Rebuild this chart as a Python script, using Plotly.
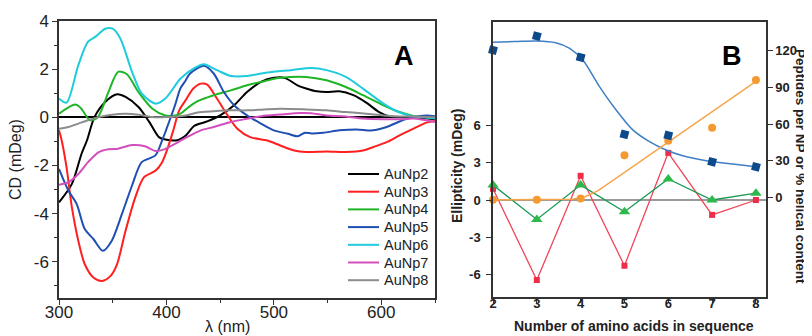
import plotly.graph_objects as go

# Browser page has an 8px body margin; the figure is sized so that it fills the 812x336 window.
OFF = 8
W, H = 812 - OFF, 336 - OFF

# ---------------- Panel A data (CD spectra) ----------------
wl_np2 = [300, 312, 321, 326, 333, 343, 354, 362, 374, 384, 393, 399, 410, 418, 426, 438, 450, 463, 475, 488, 500, 510, 522, 530, 540, 549, 561, 574, 586, 598, 607, 620, 635, 650]
cd_np2 = [-3.53, -2.76, -1.51, -0.96, 0.01, 0.64, 0.96, 0.85, 0.43, -0.19, -0.82, -0.92, -0.95, -0.75, -0.35, -0.17, 0.08, 0.5, 1.05, 1.47, 1.64, 1.64, 1.33, 1.2, 1.08, 1.05, 1.08, 0.92, 0.61, 0.22, 0.05, 0.0, -0.02, -0.08]

wl_np3 = [300, 302.5, 307, 312, 318, 324, 332, 340, 348, 354, 362, 371, 379, 390, 396, 401, 406, 412, 418, 425, 432, 438, 447, 457, 466, 478, 494, 506, 519, 530, 549, 567, 583, 592, 605, 617, 630, 642, 650]
cd_np3 = [-0.54, -0.96, -2.07, -3.74, -5.13, -6.1, -6.65, -6.79, -6.58, -6.1, -4.7, -3.32, -2.49, -2.21, -1.86, -1.3, -0.6, 0.3, 0.72, 1.2, 1.4, 1.36, 0.78, 0.08, -0.47, -0.82, -0.96, -1.17, -1.38, -1.44, -1.42, -1.44, -1.38, -1.24, -1.03, -0.75, -0.47, -0.22, -0.15]

wl_np4 = [300, 315, 320, 329, 336, 346, 355, 363, 374, 387, 399, 408, 413, 420, 429, 444, 460, 475, 491, 506, 530, 549, 567, 583, 602, 617, 630, 650]
cd_np4 = [0.15, 0.53, 0.4, -0.12, 0.0, 1.05, 1.89, 1.8, 1.05, 0.36, 0.08, 0.08, 0.15, 0.4, 0.67, 0.92, 1.12, 1.33, 1.5, 1.64, 1.68, 1.54, 1.26, 0.92, 0.5, 0.22, 0.06, 0.0]

wl_np5 = [300, 308.7, 316.5, 324, 332, 340.8, 349, 358.6, 368, 377, 389.7, 396, 399, 408, 413, 418, 422, 435, 444, 453.5, 463, 475, 488, 500, 513, 522, 529, 535, 546, 561, 577, 592, 605, 617, 630, 642, 650]
cd_np5 = [-2.14, -3.04, -3.6, -4.64, -5.05, -5.54, -5.13, -4.01, -2.83, -1.86, -1.58, -0.96, -0.61, 0.5, 1.2, 1.54, 1.82, 2.14, 1.82, 1.05, 0.5, 0.08, -0.26, -0.54, -0.68, -0.78, -0.64, -0.67, -0.64, -0.54, -0.5, -0.54, -0.4, -0.17, 0.01, 0.08, 0.05]

wl_np6 = [300, 307, 318, 327, 334, 343, 350, 357, 368, 377, 390, 399, 413, 425.5, 435, 447, 460, 475, 494, 516, 535, 549, 567, 583, 602, 617, 630, 650]
cd_np6 = [0.78, 0.61, 2.17, 3.14, 3.35, 3.68, 3.68, 3.28, 1.89, 0.99, 0.57, 0.78, 1.6, 2.03, 2.2, 1.96, 1.72, 1.72, 1.86, 1.96, 2.05, 1.96, 1.68, 1.19, 0.57, 0.2, 0.04, -0.05]

wl_np7 = [300, 309, 318, 327, 337, 346, 355, 368, 380, 390, 398, 408, 418, 432, 444, 460, 475, 488, 506, 525, 535, 549, 567, 583, 602, 617, 630, 650]
cd_np7 = [-2.8, -2.69, -2.35, -1.86, -1.44, -1.32, -1.3, -1.15, -1.2, -1.4, -1.33, -1.1, -0.85, -0.54, -0.4, -0.19, -0.06, 0.05, 0.12, 0.18, 0.17, 0.08, 0.04, -0.05, -0.08, -0.08, -0.05, -0.19]

wl_np8 = [300, 309, 318, 327, 337, 349, 362, 374, 387, 399, 418, 429, 444, 460, 475, 491, 506, 530, 549, 567, 586, 602, 617, 630, 650]
cd_np8 = [-0.47, -0.4, -0.26, -0.12, 0.01, 0.11, 0.15, 0.11, 0.01, 0.01, 0.08, 0.2, 0.25, 0.29, 0.29, 0.33, 0.36, 0.33, 0.29, 0.22, 0.15, 0.08, 0.04, 0.04, 0.0]

spectra = [
    ("AuNp2", wl_np2, cd_np2, "#000000"),
    ("AuNp3", wl_np3, cd_np3, "#ff1f1f"),
    ("AuNp4", wl_np4, cd_np4, "#1fb526"),
    ("AuNp5", wl_np5, cd_np5, "#1f4fb0"),
    ("AuNp6", wl_np6, cd_np6, "#1fcbdc"),
    ("AuNp7", wl_np7, cd_np7, "#d24fbd"),
    ("AuNp8", wl_np8, cd_np8, "#8c8c8c"),
]

# ---------------- Panel B data ----------------
n_amino = [2, 3, 4, 5, 6, 7, 8]
ellip_red = [0.9, -6.45, 1.95, -5.3, 3.8, -1.2, 0.0]
ellip_green = [1.2, -1.57, 1.2, -0.95, 1.7, 0.0, 0.55]
peptides_per_np = [120.5, 132, 114.5, 51.5, 50.7, 29, 25]
helical_pct = [-2, -2, -1, 34.4, 46.4, 57, 96]

fit_pep_x = [2.0, 2.5, 3.0, 3.43, 3.75, 4.05, 4.43, 4.81, 5.19, 5.57, 5.95, 6.33, 6.87, 7.47, 8.0]
fit_pep_y = [127, 127.5, 128, 126.6, 122, 112.4, 90.6, 71.5, 55.2, 45.6, 38.8, 34.1, 30, 27.3, 25]
fit_hel_x = [2, 3, 3.8, 4.1, 4.4, 8]
fit_hel_y = [-2, -2, -1.5, 0.5, 5.5, 95]

FONT = "Liberation Sans, Arial, sans-serif"

fig = go.Figure()

for name, x, y, c in spectra:
    fig.add_trace(go.Scatter(x=x, y=y, mode="lines", name=name, showlegend=False,
                             line=dict(color=c, width=2, shape="spline", smoothing=0.8),
                             xaxis="x", yaxis="y"))

# Panel B traces
fig.add_trace(go.Scatter(x=fit_pep_x, y=fit_pep_y, mode="lines", showlegend=False,
                         line=dict(color="#3f7fc4", width=1.5, shape="spline", smoothing=0.8),
                         xaxis="x2", yaxis="y3", cliponaxis=False))
fig.add_trace(go.Scatter(x=fit_hel_x, y=fit_hel_y, mode="lines", showlegend=False,
                         line=dict(color="#f7a54a", width=1.5),
                         xaxis="x2", yaxis="y3", cliponaxis=False))
fig.add_trace(go.Scatter(x=n_amino, y=ellip_red, mode="lines+markers", showlegend=False,
                         line=dict(color="#f0455a", width=1.3),
                         marker=dict(symbol="square", size=6, color="#ee2d4a"),
                         xaxis="x2", yaxis="y2", cliponaxis=False))
fig.add_trace(go.Scatter(x=n_amino, y=ellip_green, mode="lines+markers", showlegend=False,
                         line=dict(color="#1a9a55", width=1.3),
                         marker=dict(symbol="triangle-up", size=10, color="#2cb84a"),
                         xaxis="x2", yaxis="y2", cliponaxis=False))
fig.add_trace(go.Scatter(x=n_amino, y=helical_pct, mode="markers", showlegend=False,
                         marker=dict(symbol="circle", size=8, color="#f59a32"),
                         xaxis="x2", yaxis="y3", cliponaxis=False))
fig.add_trace(go.Scatter(x=n_amino, y=peptides_per_np, mode="markers", showlegend=False,
                         marker=dict(symbol="square", size=8, color="#0c4a8c", angle=15),
                         xaxis="x2", yaxis="y3", cliponaxis=False))

def px(x):
    return (x - OFF) / W

def py(y):
    return 1 - (y - OFF) / H

axcol = "#333333"
tfA = dict(family=FONT, size=17, color="#222")
tfB = dict(family=FONT, size=13, color="#222", weight="bold")

fig.update_layout(
    template="none",
    width=W, height=H,
    margin=dict(l=0, r=0, t=0, b=0, pad=0, autoexpand=False),
    paper_bgcolor="white", plot_bgcolor="white",
    font=dict(family=FONT, color="#222"),
    showlegend=False,
    xaxis=dict(domain=[px(59), px(435)], range=[300, 650], anchor="y", automargin=False,
               showgrid=False, zeroline=False, showline=True, mirror=True,
               linecolor=axcol, linewidth=1.5,
               ticks="outside", ticklen=5, tickwidth=1.2, tickcolor=axcol,
               tickvals=[300, 400, 500, 600], tickfont=tfA, ticklabelstandoff=-7,
               minor=dict(ticks="outside", ticklen=3, tickwidth=1.2, tickcolor=axcol,
                          tickvals=[350, 450, 550, 650], showgrid=False)),
    yaxis=dict(domain=[py(298), py(21)], range=[-7.5, 4], anchor="x", automargin=False,
               showgrid=False, zeroline=True, zerolinecolor="#000", zerolinewidth=1.8,
               showline=True, mirror=True, linecolor=axcol, linewidth=1.5,
               ticks="outside", ticklen=5, tickwidth=1.2, tickcolor=axcol,
               tickvals=[-6, -4, -2, 0, 2, 4], ticktext=["-6", "-4", "-2", "0", "2", "4"],
               tickfont=tfA,
               minor=dict(ticks="outside", ticklen=3, tickwidth=1.2, tickcolor=axcol,
                          tickvals=[-7, -5, -3, -1, 1, 3], showgrid=False)),
    xaxis2=dict(domain=[px(493), px(766)], range=[2, 8.23], anchor="y2", automargin=False,
                showgrid=False, zeroline=False, showline=True, mirror=True,
                linecolor=axcol, linewidth=1.5,
                ticks="outside", ticklen=4, tickwidth=1.2, tickcolor=axcol,
                tickvals=n_amino, tickfont=tfB, ticklabelstandoff=-10),
    yaxis2=dict(domain=[py(297), py(22)], range=[-7.82, 14.35], anchor="x2", automargin=False,
                showgrid=False, zeroline=True, zerolinecolor="#9a9a9a", zerolinewidth=2,
                showline=True, mirror=False, linecolor=axcol, linewidth=1.5,
                ticks="outside", ticklen=5, tickwidth=1.2, tickcolor=axcol,
                tickvals=[-6, -3, 0, 3, 6], ticktext=["-6", "-3", "0", "3", "6"],
                tickfont=tfB, ticklabelstandoff=3),
    yaxis3=dict(overlaying="y2", side="right", anchor="x2", range=[-81.5, 143.5], automargin=False,
                showgrid=False, zeroline=False, showline=True,
                linecolor=axcol, linewidth=1.5,
                ticks="outside", ticklen=5, tickwidth=1.2, tickcolor=axcol,
                tickvals=[0, 30, 60, 90, 120], tickfont=tfB),
)

# Legend for panel A (drawn from the spectra list)
shapes = []
ann = []
for i, (name, x, y, c) in enumerate(spectra):
    yy = 174 + 17.7 * i
    shapes.append(dict(type="line", xref="paper", yref="paper",
                       x0=px(348), x1=px(379), y0=py(yy), y1=py(yy),
                       line=dict(color=c, width=2)))
    ann.append(dict(text=name, x=px(382), y=py(yy), xanchor="left", yanchor="middle",
                    font=dict(family=FONT, size=14.5, color="#222")))

ann += [
    dict(text="A", x=px(404), y=py(56), font=dict(family=FONT, size=27, color="#000", weight="bold")),
    dict(text="B", x=px(732), y=py(56), font=dict(family=FONT, size=27, color="#000", weight="bold")),
    dict(text="CD (mDeg)", x=px(15), y=py(160), textangle=-90, font=dict(family=FONT, size=16, color="#222")),
    dict(text="λ (nm)", x=px(228), y=py(326), font=dict(family=FONT, size=16, color="#222")),
    dict(text="Ellipticity (mDeg)", x=px(457), y=py(166), textangle=-90,
         font=dict(family=FONT, size=14, color="#222", weight="bold")),
    dict(text="Peptides per NP or % helical content", x=px(801), y=py(166), textangle=90,
         font=dict(family=FONT, size=13.5, color="#222", weight="bold")),
    dict(text="Number of amino acids in sequence", x=px(634), y=py(326),
         font=dict(family=FONT, size=14, color="#222", weight="bold")),
]
for a in ann:
    a.setdefault("xanchor", "center")
    a.setdefault("yanchor", "middle")
    a.update(xref="paper", yref="paper", showarrow=False)
fig.update_layout(annotations=ann, shapes=shapes)

fig.write_html("out.html")
